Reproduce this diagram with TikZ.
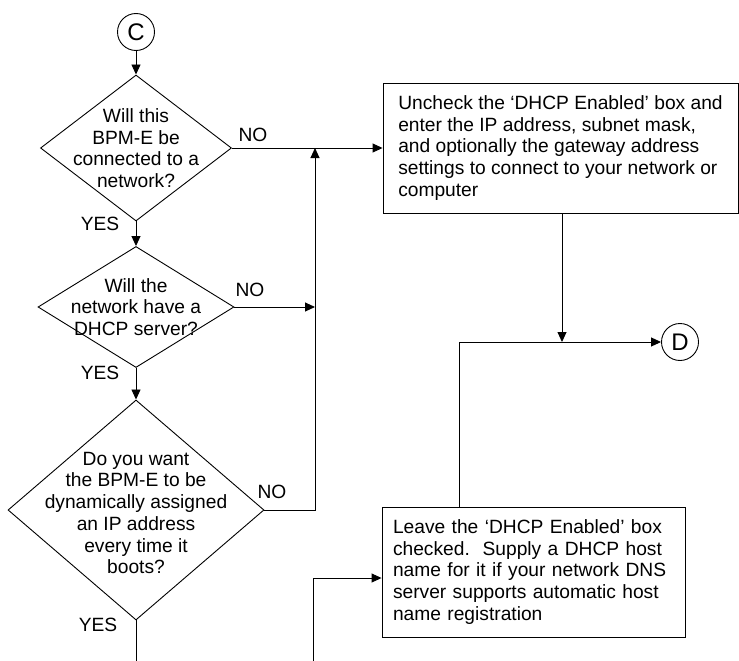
\documentclass[tikz,border=0pt]{standalone}
\usepackage{fontspec}
\setmainfont{Liberation Sans}
\usetikzlibrary{shapes.geometric,arrows.meta}

\tikzset{
  flow/.style={-{Triangle[length=10pt,width=9pt]}},
  decision/.style={diamond,draw,inner sep=0pt},
  qtext/.style={align=center,inner sep=0pt},
  stepbox/.style={rectangle,draw,align=left,inner sep=0pt,minimum height=130pt},
  conn/.style={circle,draw,inner sep=0pt,minimum size=37pt,font=\fontsize{24}{24}\selectfont}
}

\begin{document}
\begin{tikzpicture}[x=1pt,y=-1pt,line width=0.9pt,font=\fontsize{19.2}{21.7}\selectfont]
\useasboundingbox (0,0) rectangle (739,661);
\pgfmathsetmacro{\myjoin}{315};
\pgfmathsetmacro{\mytail}{661};

% connector and questions
\node[conn] (c) at (136,32) {C};

\node[decision,minimum width=191pt,minimum height=146pt] (q1) at (136,148) {};
\node[qtext] (q1text) at (q1) {Will this\\BPM-E be\\connected to a\\network?};

\node[decision,minimum width=196pt,minimum height=121pt] (q2) at (136,307) {};
\node[qtext] (q2text) at (q2) {Will the\\network have a\\DHCP server?};

\node[decision,minimum width=256pt,minimum height=220pt] (q3) at (136,510) {};
\node[qtext] (q3text) at (136,513) {Do you want\\the BPM-E to be\\dynamically assigned\\an IP address\\every time it\\boots?};

% action boxes
\node[stepbox,minimum width=355pt] (static) at (560.5,148)
  {Uncheck the ‘DHCP Enabled’ box and\\enter the IP address, subnet mask,\\and optionally the gateway address\\settings to connect to your network or\\computer};
\node[stepbox,minimum width=303pt,text width=281pt] (dhcp) at (533.5,572)
  {Leave the ‘DHCP Enabled’ box\\checked.\ \ Supply a DHCP host\\name for it if your network DNS\\server supports automatic host\\name registration};

\node[conn] (d) at (680,342) {D};

% answers
\node (no1) at (253,135) {NO};
\node (yes1) at (100,224) {YES};
\node (no2) at (250,290) {NO};
\node (yes2) at (100,373) {YES};
\node (no3) at (272,492) {NO};
\node (yes3) at (98,625) {YES};

\coordinate (j1) at (\myjoin,148);
\coordinate (j2) at (459,342);
\coordinate (out1) at (136,\mytail);
\coordinate (in2) at (313,\mytail);

\draw[flow] (c) -- (q1);
\draw[flow] (q1) -- (q2);
\draw[flow] (q2) -- (q3);
\draw[flow] (q1.east) -- (static.west);
\draw[flow] (q2.east) -- (q2.east -| j1);
\draw[flow] (q3.east) -| (j1);
\draw (q3.south) -- (out1);
\draw[flow] (in2) |- ([yshift=-6pt]dhcp.west);
\draw[flow] (static.south -| 562,0) -- (j2 -| 562,0);
\draw[flow] (dhcp.north -| j2) |- (d);
\end{tikzpicture}
\end{document}
